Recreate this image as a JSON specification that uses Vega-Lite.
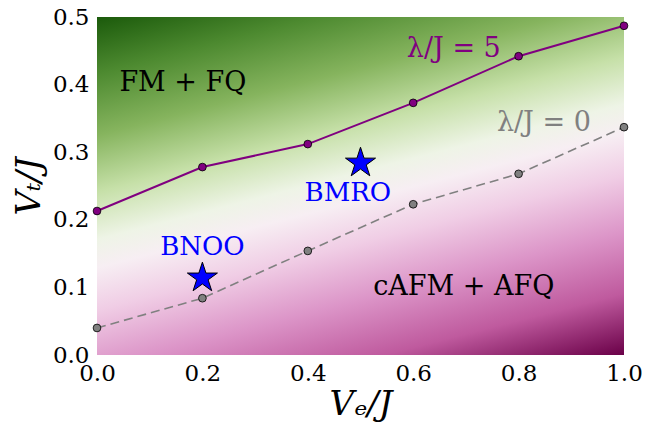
{
  "$schema": "https://vega.github.io/schema/vega-lite/v6.json",
  "width": 527,
  "height": 338,
  "autosize": "none",
  "padding": {"left": 97, "top": 17, "right": 30, "bottom": 71},
  "config": {
    "view": {"stroke": null},
    "axis": {"grid": false, "domain": false, "ticks": false, "labelFlush": false, "labelFont": "DejaVu Serif", "labelFontSize": 23, "labelColor": "#000", "titleFont": "DejaVu Serif", "titleFontSize": 34, "titleFontStyle": "italic", "titleFontWeight": "normal", "titleColor": "#000"}
  },
  "layer": [
    {
      "data": {"values": [{"x0": 0, "x1": 1, "y0": 0, "y1": 0.5}]},
      "mark": {"type": "rect", "fill": {"gradient": "linear", "x1": 0, "y1": 0, "x2": 0.483, "y2": 1.207, "stops": [
        {"offset": 0, "color": "#1b5a0b"},
        {"offset": 0.12, "color": "#4d8a30"},
        {"offset": 0.25, "color": "#86b45e"},
        {"offset": 0.37, "color": "#c6e0a8"},
        {"offset": 0.47, "color": "#eef4e6"},
        {"offset": 0.53, "color": "#f7eef3"},
        {"offset": 0.62, "color": "#f0cde5"},
        {"offset": 0.74, "color": "#dc95c8"},
        {"offset": 0.87, "color": "#bf5a9e"},
        {"offset": 1, "color": "#6a0048"}
      ]}},
      "encoding": {
        "x": {"field": "x0", "type": "quantitative", "scale": {"domain": [0, 1], "nice": false, "zero": false}, "axis": {"values": [0, 0.2, 0.4, 0.6, 0.8, 1.0], "format": ".1f", "title": "Vₑ/J", "labelPadding": 7, "titlePadding": 2}},
        "x2": {"field": "x1"},
        "y": {"field": "y0", "type": "quantitative", "scale": {"domain": [0, 0.5], "nice": false, "zero": false}, "axis": {"values": [0, 0.1, 0.2, 0.3, 0.4, 0.5], "format": ".1f", "title": "Vₜ/J", "labelPadding": 8, "titlePadding": 6}},
        "y2": {"field": "y1"}
      }
    },
    {
      "data": {"values": [
        {"x": 0.0, "y": 0.213}, {"x": 0.2, "y": 0.278}, {"x": 0.4, "y": 0.312},
        {"x": 0.6, "y": 0.373}, {"x": 0.8, "y": 0.442}, {"x": 1.0, "y": 0.487}
      ]},
      "layer": [
        {"mark": {"type": "line", "color": "#800080", "strokeWidth": 2}, "encoding": {"x": {"field": "x", "type": "quantitative"}, "y": {"field": "y", "type": "quantitative"}}},
        {"mark": {"type": "point", "filled": true, "fill": "#800080", "stroke": "#000", "strokeWidth": 0.8, "size": 60, "opacity": 1}, "encoding": {"x": {"field": "x", "type": "quantitative"}, "y": {"field": "y", "type": "quantitative"}}}
      ]
    },
    {
      "data": {"values": [
        {"x": 0.0, "y": 0.040}, {"x": 0.2, "y": 0.084}, {"x": 0.4, "y": 0.154},
        {"x": 0.6, "y": 0.223}, {"x": 0.8, "y": 0.268}, {"x": 1.0, "y": 0.337}
      ]},
      "layer": [
        {"mark": {"type": "line", "color": "#808080", "strokeWidth": 1.6, "strokeDash": [9, 5]}, "encoding": {"x": {"field": "x", "type": "quantitative"}, "y": {"field": "y", "type": "quantitative"}}},
        {"mark": {"type": "point", "filled": true, "fill": "#808080", "stroke": "#000", "strokeWidth": 0.8, "size": 60, "opacity": 1}, "encoding": {"x": {"field": "x", "type": "quantitative"}, "y": {"field": "y", "type": "quantitative"}}}
      ]
    },
    {
      "data": {"values": [
        {"x": 0.2, "y": 0.114, "name": "BNOO", "ty": 0.160, "tx": 0.2},
        {"x": 0.5, "y": 0.284, "name": "BMRO", "ty": 0.240, "tx": 0.476}
      ]},
      "layer": [
        {"mark": {"type": "point", "shape": "M0,-1L0.2245,-0.309L0.951,-0.309L0.363,0.118L0.588,0.809L0,0.382L-0.588,0.809L-0.363,0.118L-0.951,-0.309L-0.2245,-0.309Z", "filled": true, "fill": "#0000ff", "stroke": "#000", "strokeWidth": 1, "size": 1000, "opacity": 1}, "encoding": {"x": {"field": "x", "type": "quantitative"}, "y": {"field": "y", "type": "quantitative"}}},
        {"mark": {"type": "text", "font": "DejaVu Serif", "fontSize": 26, "color": "#0000ff", "baseline": "middle", "align": "center"}, "encoding": {"x": {"field": "tx", "type": "quantitative"}, "y": {"field": "ty", "type": "quantitative"}, "text": {"field": "name"}}}
      ]
    },
    {
      "data": {"values": [
        {"x": 0.163, "y": 0.403, "label": "FM + FQ", "c": "#000000"},
        {"x": 0.696, "y": 0.100, "label": "cAFM + AFQ", "c": "#000000"},
        {"x": 0.677, "y": 0.452, "label": "λ/J = 5", "c": "#800080"},
        {"x": 0.848, "y": 0.343, "label": "λ/J = 0", "c": "#808080"}
      ]},
      "mark": {"type": "text", "font": "DejaVu Serif", "fontSize": 27, "baseline": "middle", "align": "center"},
      "encoding": {
        "x": {"field": "x", "type": "quantitative"},
        "y": {"field": "y", "type": "quantitative"},
        "text": {"field": "label"},
        "color": {"field": "c", "type": "nominal", "scale": null}
      }
    }
  ]
}
